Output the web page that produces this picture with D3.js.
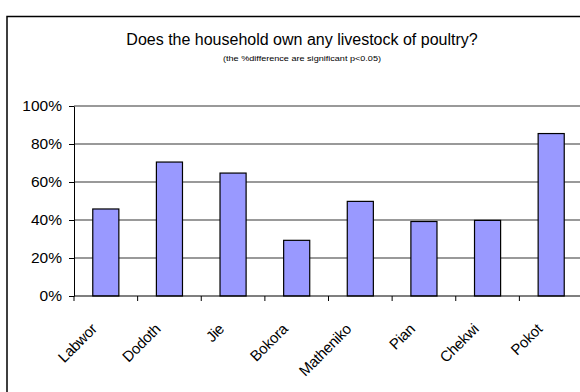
<!DOCTYPE html>
<html>
<head>
<meta charset="utf-8">
<script src="https://cdn.jsdelivr.net/npm/d3@7"></script>
<style>
  html, body { margin: 0; padding: 0; background: #fff; overflow: hidden; }
  svg { display: block; overflow: hidden; font-family: "Liberation Sans", Arial, sans-serif; }
</style>
</head>
<body>
<svg id="chart" width="580" height="392"></svg>
<script>
// Share of households owning livestock or poultry, by group (%)
const groups = ["Labwor", "Dodoth", "Jie", "Bokora", "Matheniko", "Pian", "Chekwi", "Pokot"];
const ownership = [45.8, 70.5, 64.7, 29.3, 49.8, 39.2, 39.8, 85.5];
const yTicks = [0, 20, 40, 60, 80, 100];

const svg = d3.select("#chart");

// outer frame: only its top and left edges fall inside the view
svg.append("path")
  .attr("d", "M7,440 L7,16.5 L700,16.5")
  .attr("fill", "none").attr("stroke", "#000").attr("stroke-width", 1.5);

// titles
svg.append("text")
  .attr("x", 302).attr("y", 45)
  .attr("text-anchor", "middle")
  .attr("font-size", 16)
  .attr("fill", "#000")
  .text("Does the household own any livestock of poultry?");

svg.append("text")
  .attr("x", 302).attr("y", 61)
  .attr("text-anchor", "middle")
  .attr("font-size", 7.5)
  .attr("textLength", 158)
  .attr("lengthAdjust", "spacingAndGlyphs")
  .attr("fill", "#000")
  .text("(the %difference are significant p<0.05)");

const plotLeft = 74, plotRight = 583, plotTop = 106, plotBottom = 296;

const x = d3.scaleBand()
  .domain(groups)
  .range([plotLeft, plotRight])
  .paddingInner(0.59)
  .paddingOuter(0.295);

const y = d3.scaleLinear().domain([0, 100]).range([plotBottom, plotTop]);

// horizontal gridlines
svg.append("g")
  .selectAll("line")
  .data(yTicks.filter(d => d > 0))
  .join("line")
  .attr("x1", plotLeft).attr("x2", plotRight)
  .attr("y1", d => y(d)).attr("y2", d => y(d))
  .attr("stroke", "#777").attr("stroke-width", 1.5);

// bars
svg.append("g")
  .selectAll("rect")
  .data(groups)
  .join("rect")
  .attr("x", d => x(d))
  .attr("width", x.bandwidth())
  .attr("y", (d, i) => y(ownership[i]))
  .attr("height", (d, i) => y(0) - y(ownership[i]))
  .attr("fill", "#9999ff")
  .attr("stroke", "#000")
  .attr("stroke-width", 1.2);

// y axis
const yAxis = d3.axisLeft(y)
  .tickValues(yTicks)
  .tickFormat(d => d + "%")
  .tickSize(5)
  .tickSizeOuter(0)
  .tickPadding(7);

const gy = svg.append("g")
  .attr("transform", `translate(${plotLeft},0)`)
  .call(yAxis);
gy.selectAll("text").attr("font-size", 15.5).attr("fill", "#000").attr("font-family", "Liberation Sans, Arial, sans-serif");
gy.selectAll("line, path").attr("stroke", "#000");

// x axis: ticks sit on the category boundaries
const step = x.step();
const boundaries = d3.range(groups.length + 1).map(i => plotLeft + i * step);
const gx = svg.append("g");
gx.append("line")
  .attr("x1", plotLeft).attr("x2", plotRight)
  .attr("y1", plotBottom).attr("y2", plotBottom)
  .attr("stroke", "#000").attr("stroke-width", 1.2);
gx.selectAll("line.tick")
  .data(boundaries)
  .join("line")
  .attr("class", "tick")
  .attr("x1", d => d).attr("x2", d => d)
  .attr("y1", plotBottom).attr("y2", plotBottom + 5)
  .attr("stroke", "#000");

// rotated category labels
gx.selectAll("text")
  .data(groups)
  .join("text")
  .attr("transform", d => `translate(${x(d) + x.bandwidth() / 2 - 8},${plotBottom + 34}) rotate(-45)`)
  .attr("text-anchor", "end")
  .attr("font-size", 15)
  .attr("letter-spacing", -0.3)
  .attr("fill", "#000")
  .text(d => d);
</script>
</body>
</html>
